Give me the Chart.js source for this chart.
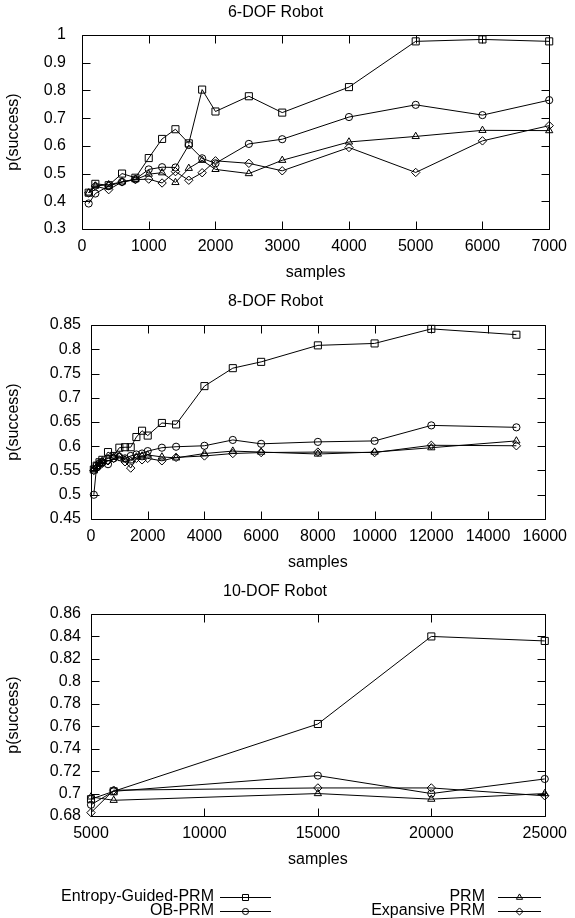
<!DOCTYPE html>
<html><head><meta charset="utf-8">
<script src="https://cdn.jsdelivr.net/npm/chart.js@4.4.0/dist/chart.umd.min.js"></script>
<style>
html,body{margin:0;padding:0;background:#fff;width:575px;height:918px;overflow:hidden}
.wrap{position:absolute;left:0;width:575px}
canvas{display:block}
</style></head><body>
<div class="wrap" style="top:0px"><canvas id="c1" width="575" height="290" style="width:575px;height:290px"></canvas></div>
<div class="wrap" style="top:290px"><canvas id="c2" width="575" height="290" style="width:575px;height:290px"></canvas></div>
<div class="wrap" style="top:580px"><canvas id="c3" width="575" height="338" style="width:575px;height:338px"></canvas></div>
<script>
// ---------- data ----------
const seriesNames = ["Entropy-Guided-PRM", "OB-PRM", "PRM", "Expansive PRM"];
const seriesStyles = ["rect", "circle", "triangle", "rectRot"];

// 6-DOF
const samples6 = [100, 200, 400, 600, 800, 1000, 1200, 1400, 1600, 1800, 2000, 2500, 3000, 4000, 5000, 6000, 7000];
const entropy6 = [0.431, 0.463, 0.458, 0.500, 0.485, 0.556, 0.625, 0.660, 0.609, 0.803, 0.724, 0.779, 0.720, 0.812, 0.977, 0.984, 0.977];
const obprm6   = [0.392, 0.428, 0.455, 0.470, 0.480, 0.515, 0.523, 0.522, 0.603, 0.555, 0.537, 0.607, 0.624, 0.704, 0.748, 0.711, 0.765];
const prm6     = [0.430, 0.455, 0.460, 0.470, 0.478, 0.498, 0.503, 0.468, 0.519, 0.548, 0.515, 0.500, 0.548, 0.614, 0.634, 0.656, 0.655];
const expans6  = [0.430, 0.455, 0.442, 0.470, 0.478, 0.480, 0.466, 0.507, 0.476, 0.503, 0.546, 0.537, 0.510, 0.594, 0.504, 0.618, 0.673];
const xTicks6 = [0, 1000, 2000, 3000, 4000, 5000, 6000, 7000];
const yTicks6 = [0.3, 0.4, 0.5, 0.6, 0.7, 0.8, 0.9, 1.0];

// 8-DOF
const samples8 = [100, 200, 300, 400, 600, 800, 1000, 1200, 1400, 1600, 1800, 2000, 2500, 3000, 4000, 5000, 6000, 8000, 10000, 12000, 15000];
const entropy8 = [0.552, 0.560, 0.567, 0.572, 0.588, 0.580, 0.597, 0.598, 0.598, 0.619, 0.632, 0.622, 0.648, 0.645, 0.724, 0.761, 0.774, 0.808, 0.812, 0.842, 0.830];
const obprm8   = [0.500, 0.560, 0.565, 0.567, 0.563, 0.575, 0.578, 0.575, 0.580, 0.583, 0.585, 0.590, 0.597, 0.599, 0.601, 0.613, 0.605, 0.609, 0.611, 0.643, 0.639];
const prm8     = [0.552, 0.558, 0.565, 0.570, 0.575, 0.578, 0.580, 0.572, 0.570, 0.578, 0.580, 0.582, 0.578, 0.576, 0.585, 0.590, 0.588, 0.584, 0.588, 0.597, 0.611];
const expans8  = [0.550, 0.555, 0.560, 0.565, 0.570, 0.575, 0.578, 0.568, 0.555, 0.575, 0.572, 0.575, 0.570, 0.577, 0.580, 0.585, 0.587, 0.588, 0.587, 0.602, 0.601];
const xTicks8 = [0, 2000, 4000, 6000, 8000, 10000, 12000, 14000, 16000];
const yTicks8 = [0.45, 0.5, 0.55, 0.6, 0.65, 0.7, 0.75, 0.8, 0.85];

// 10-DOF
const samples10 = [5000, 6000, 15000, 20000, 25000];
const entropy10 = [0.695, 0.702, 0.762, 0.840, 0.836];
const obprm10   = [0.690, 0.702, 0.716, 0.700, 0.713];
const prm10     = [0.697, 0.694, 0.700, 0.695, 0.700];
const expans10  = [0.683, 0.703, 0.705, 0.705, 0.698];
const xTicks10 = [5000, 10000, 15000, 20000, 25000];
const yTicks10 = [0.68, 0.7, 0.72, 0.74, 0.76, 0.78, 0.8, 0.82, 0.84, 0.86];

const titles = ["6-DOF Robot", "8-DOF Robot", "10-DOF Robot"];
const xLabel = "samples";
const yLabel = "p(success)";

// ---------- drawing ----------
const FONT = "'Liberation Sans', Arial, Helvetica, sans-serif";
const FS = 16;
const radii = {rect: 5, circle: 3.6, triangle: 4.2, rectRot: 4.2};
const fmt = v => String(Number(Number(v).toFixed(3)));

const framePlugin = {
  id: 'frame',
  afterDatasetsDraw(chart) {
    const {ctx, chartArea: a, scales: {x, y}} = chart;
    const TL = 8;
    ctx.save();
    ctx.strokeStyle = '#000';
    ctx.lineWidth = 1;
    const l = Math.round(a.left) + 0.5, r = Math.round(a.right) + 0.5;
    const t = Math.round(a.top) + 0.5, b = Math.round(a.bottom) + 0.5;
    ctx.beginPath();
    ctx.rect(l, t, r - l, b - t);
    x.ticks.forEach(tk => {
      const p = Math.round(x.getPixelForValue(tk.value)) + 0.5;
      ctx.moveTo(p, b); ctx.lineTo(p, b - TL);
      ctx.moveTo(p, t); ctx.lineTo(p, t + TL);
    });
    y.ticks.forEach(tk => {
      const p = Math.round(y.getPixelForValue(tk.value)) + 0.5;
      ctx.moveTo(l, p); ctx.lineTo(l + TL, p);
      ctx.moveTo(r, p); ctx.lineTo(r - TL, p);
    });
    ctx.stroke();
    ctx.restore();
  }
};

const legendPlugin = {
  id: 'gpLegend',
  afterDraw(chart) {
    const {ctx} = chart;
    const opts = chart.options.plugins.gpLegend;
    if (!opts) return;
    ctx.save();
    ctx.font = FS + 'px ' + FONT;
    ctx.fillStyle = '#000';
    ctx.textAlign = 'right';
    ctx.textBaseline = 'middle';
    chart.data.datasets.forEach((ds, i) => {
      const pos = opts.items[i];
      ctx.fillStyle = '#000';
      ctx.fillText(ds.label, pos.tx, pos.y);
      ctx.strokeStyle = '#000';
      ctx.lineWidth = 1;
      ctx.beginPath();
      ctx.moveTo(pos.l1, Math.round(pos.y) + 0.5);
      ctx.lineTo(pos.l2, Math.round(pos.y) + 0.5);
      ctx.stroke();
      ctx.fillStyle = 'rgba(0,0,0,0)';
      Chart.helpers.drawPoint(ctx, {pointStyle: ds.pointStyle, radius: ds.pointRadius * 0.85, rotation: 0, borderWidth: 1},
        (pos.l1 + pos.l2) / 2, Math.round(pos.y) + 0.5);
    });
    ctx.restore();
  }
};

function buildDatasets(xs, ys) {
  return ys.map((vals, i) => ({
    label: seriesNames[i],
    data: xs.map((xv, k) => ({x: xv, y: vals[k]})),
    borderColor: '#000',
    borderWidth: 1,
    backgroundColor: 'rgba(0,0,0,0)',
    pointStyle: seriesStyles[i],
    pointRadius: radii[seriesStyles[i]],
    pointBorderColor: '#000',
    pointBorderWidth: 1,
    pointBackgroundColor: 'rgba(0,0,0,0)',
    tension: 0,
    fill: false,
    clip: false
  }));
}

function makeChart(id, g, xs, ys, xt, yt, title, extra) {
  const font = {family: FONT, size: FS};
  const cfg = {
    type: 'line',
    data: {datasets: buildDatasets(xs, ys)},
    options: {
      responsive: false, animation: false, devicePixelRatio: 1,
      layout: {padding: {left: 0, right: 575 - g.R, top: 0, bottom: g.padB}},
      plugins: {
        legend: {display: false}, tooltip: {enabled: false},
        title: {display: true, text: title, color: '#000', font: {family: FONT, size: FS, weight: 'normal'},
                padding: {top: g.titleC - FS * 0.6, bottom: g.T - g.titleC - FS * 0.6}},
        gpLegend: extra || null
      },
      scales: {
        x: {
          type: 'linear', min: xt[0], max: xt[xt.length - 1],
          afterBuildTicks: s => { s.ticks = xt.map(v => ({value: v})); },
          afterFit: s => { s.height = g.Hx; },
          grid: {display: false, drawTicks: false}, border: {display: false},
          ticks: {color: '#000', font, padding: g.xPad, maxRotation: 0, minRotation: 0, autoSkip: false, callback: v => fmt(v)},
          title: {display: true, text: xLabel, color: '#000', font, padding: {top: 0, bottom: g.xtPad}}
        },
        y: {
          type: 'linear', min: yt[0], max: yt[yt.length - 1],
          afterBuildTicks: s => { s.ticks = yt.map(v => ({value: v})); },
          afterFit: s => { s.width = g.L; },
          grid: {display: false, drawTicks: false}, border: {display: false},
          ticks: {color: '#000', font, padding: g.yPad, autoSkip: false, callback: v => fmt(v)},
          title: {display: true, text: yLabel, color: '#000', font, padding: {top: g.ytPad, bottom: 0}}
        }
      }
    },
    plugins: [framePlugin, legendPlugin]
  };
  return new Chart(document.getElementById(id), cfg);
}

makeChart('c1', {L: 82, R: 551, T: 35, titleC: 13, Hx: 61, padB: 0, xPad: 8, xtPad: 8, yPad: 16, ytPad: 4},
  samples6, [entropy6, obprm6, prm6, expans6], xTicks6, yTicks6, titles[0]);
makeChart('c2', {L: 91, R: 551, T: 35, titleC: 12, Hx: 61, padB: 0, xPad: 8, xtPad: 8, yPad: 10, ytPad: 4},
  samples8, [entropy8, obprm8, prm8, expans8], xTicks8, yTicks8, titles[1]);
makeChart('c3', {L: 91, R: 550, T: 34, titleC: 12, Hx: 61, padB: 41, xPad: 8, xtPad: 8, yPad: 10, ytPad: 4},
  samples10, [entropy10, obprm10, prm10, expans10], xTicks10, yTicks10, titles[2],
  {items: [
    {tx: 214, y: 317, l1: 220, l2: 271},
    {tx: 214, y: 331, l1: 220, l2: 271},
    {tx: 485, y: 317, l1: 498, l2: 541},
    {tx: 485, y: 331, l1: 498, l2: 541}
  ]});
</script>
</body></html>
